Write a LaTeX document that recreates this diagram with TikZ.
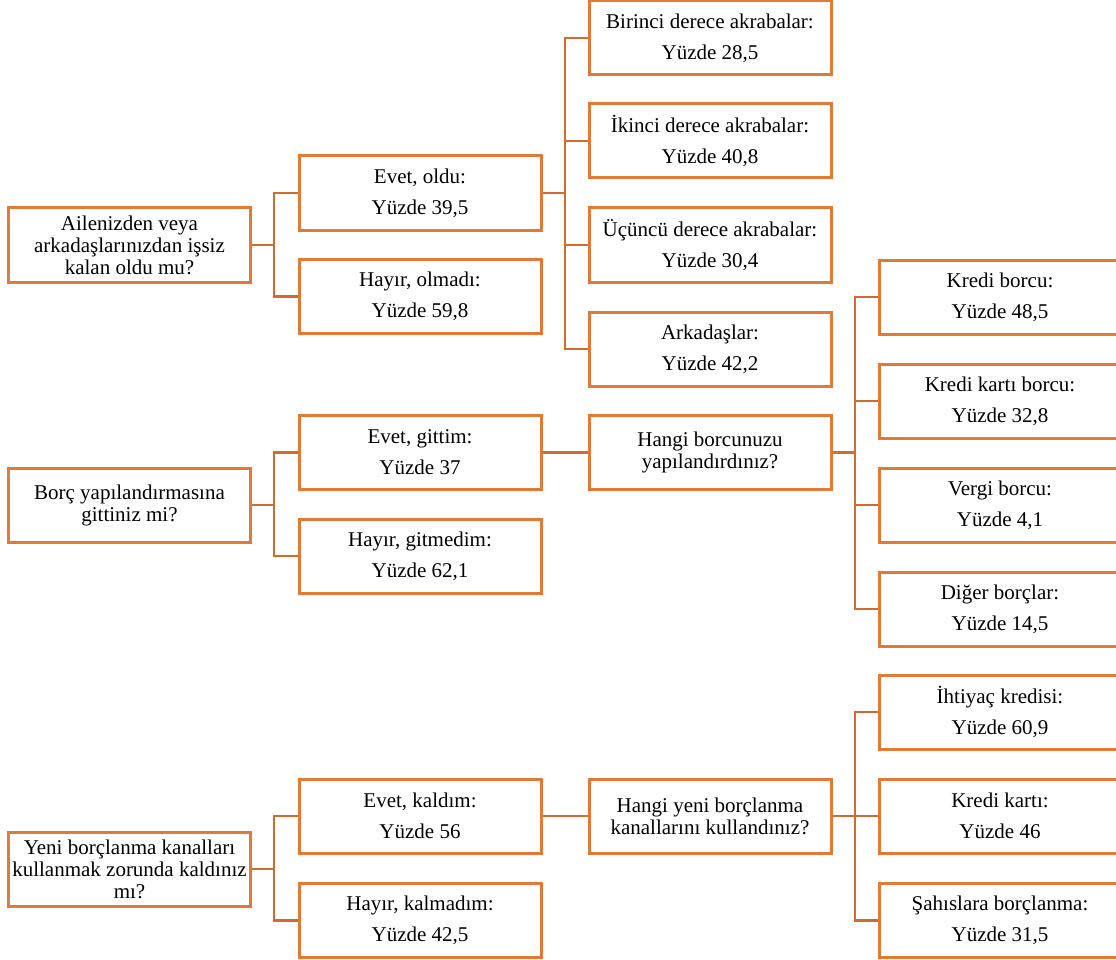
\documentclass[tikz,border=0pt]{standalone}
\usepackage{fontspec}
\setmainfont{Liberation Serif}
\definecolor{boxor}{RGB}{226,121,54}
\definecolor{conor}{RGB}{210,108,46}
\begin{document}
\begin{tikzpicture}[x=1pt,y=-1pt,
  lbox/.style={draw=boxor, line width=3pt, fill=white, minimum width=242pt, minimum height=74pt, inner sep=0pt, align=center, font=\fontsize{21}{31}\selectfont},
  qbox/.style={lbox, font=\fontsize{21}{22}\selectfont},
  conn/.style={draw=conor, line width=2.4pt}]
\useasboundingbox (0,0) rectangle (1116,960);
\clip (0,0) rectangle (1116,960);
% group 1
\node[qbox] (r1) at (129.5,245) {Ailenizden veya\\arkadaşlarınızdan işsiz\\kalan oldu mu?};
\node[lbox] (y1) at (420,193) {Evet, oldu:\\Yüzde 39,5};
\node[lbox] (n1) at (420,296.5) {Hayır, olmadı:\\Yüzde 59,8};
\node[lbox] (a1) at (710,38) {Birinci derece akrabalar:\\Yüzde 28,5};
\node[lbox] (a2) at (710,141) {İkinci derece akrabalar:\\Yüzde 40,8};
\node[lbox] (a3) at (710,245) {Üçüncü derece akrabalar:\\Yüzde 30,4};
\node[lbox] (a4) at (710,349) {Arkadaşlar:\\Yüzde 42,2};
% group 2
\node[qbox] (r2) at (129.5,505) {Borç yapılandırmasına\\gittiniz mi?};
\node[lbox] (y2) at (420,452.5) {Evet, gittim:\\Yüzde 37};
\node[lbox] (n2) at (420,556) {Hayır, gitmedim:\\Yüzde 62,1};
\node[qbox] (h1) at (710,452.5) {Hangi borcunuzu\\yapılandırdınız?};
\node[lbox] (b1) at (1000,297) {Kredi borcu:\\Yüzde 48,5};
\node[lbox] (b2) at (1000,401) {Kredi kartı borcu:\\Yüzde 32,8};
\node[lbox] (b3) at (1000,505) {Vergi borcu:\\Yüzde 4,1};
\node[lbox] (b4) at (1000,609) {Diğer borçlar:\\Yüzde 14,5};
% group 3
\node[qbox] (r3) at (129.5,869) {Yeni borçlanma kanalları\\kullanmak zorunda kaldınız\\mı?};
\node[lbox] (y3) at (420,816) {Evet, kaldım:\\Yüzde 56};
\node[lbox] (n3) at (420,920.5) {Hayır, kalmadım:\\Yüzde 42,5};
\node[qbox] (h2) at (710,816) {Hangi yeni borçlanma\\kanallarını kullandınız?};
\node[lbox] (k1) at (1000,712) {İhtiyaç kredisi:\\Yüzde 60,9};
\node[lbox] (k2) at (1000,816) {Kredi kartı:\\Yüzde 46};
\node[lbox] (k3) at (1000,920.5) {Şahıslara borçlanma:\\Yüzde 31,5};
% connectors
\coordinate (t1) at (274,245);
\coordinate (t2) at (274,505);
\coordinate (t3) at (274,869);
\coordinate (u1) at (565,193);
\coordinate (u2) at (855,452.5);
\coordinate (u3) at (855,816);
\draw[conn] (r1.east) -- (t1);
\draw[conn] (y1.west) -| (t1) |- (n1.west);
\draw[conn] (r2.east) -- (t2);
\draw[conn] (y2.west) -| (t2) |- (n2.west);
\draw[conn] (r3.east) -- (t3);
\draw[conn] (y3.west) -| (t3) |- (n3.west);
\draw[conn] (y1.east) -- (u1);
\draw[conn] (a1.west) -| (u1) |- (a4.west);
\draw[conn] (u1) |- (a2.west);
\draw[conn] (u1) |- (a3.west);
\draw[conn] (y2.east) -- (h1.west);
\draw[conn] (h1.east) -- (u2);
\draw[conn] (b1.west) -| (u2) |- (b4.west);
\draw[conn] (u2) |- (b2.west);
\draw[conn] (u2) |- (b3.west);
\draw[conn] (y3.east) -- (h2.west);
\draw[conn] (h2.east) -- (u3);
\draw[conn] (k1.west) -| (u3) |- (k3.west);
\draw[conn] (u3) |- (k2.west);
\end{tikzpicture}
\end{document}
